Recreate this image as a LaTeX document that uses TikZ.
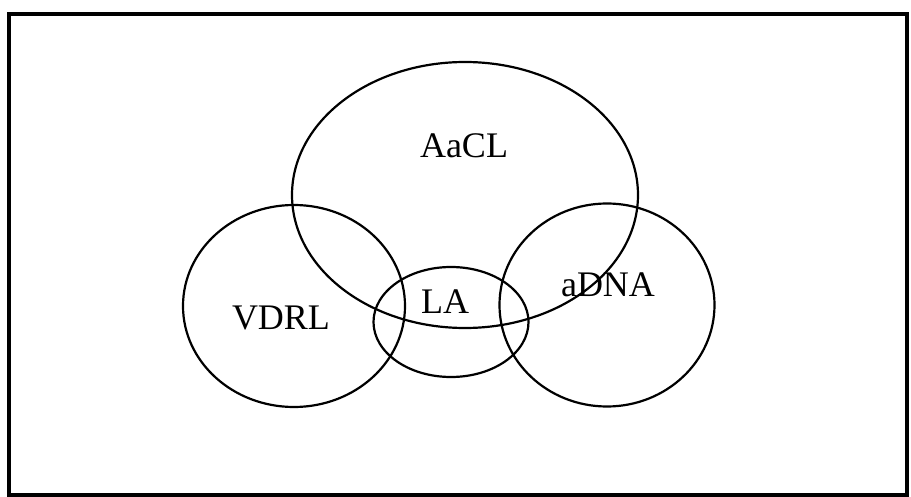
\documentclass[tikz,border=0pt]{standalone}
\usepackage{fontspec}
\setmainfont{Liberation Serif}
\usetikzlibrary{shapes.geometric}

\begin{document}
\begin{tikzpicture}[x=1pt,y=-1pt,
  setring/.style={draw,ellipse,line width=2.2pt,inner sep=0pt},
  setlabel/.style={anchor=base,inner sep=0pt,font=\fontsize{36}{40}\selectfont}]
  \useasboundingbox (0,0) rectangle (911,497);
  % Moldura
  \draw[line width=4.5pt] (9,14) rectangle (907,495);
  % Conjuntos
  \node[setring,minimum width=346pt,minimum height=266pt] (aacl) at (465,195) {};
  \node[setring,minimum width=222pt,minimum height=202pt] (vdrl) at (294,306) {};
  \node[setring,minimum width=215pt,minimum height=203pt] (adna) at (607,305) {};
  \node[setring,minimum width=155pt,minimum height=110pt] (la) at (451,322) {};
  % R\'{o}tulos
  \node[setlabel] (aaclText) at (464,158) {AaCL};
  \node[setlabel] (vdrlText) at (281,330) {VDRL};
  \node[setlabel] (adnaText) at (608,297) {aDNA};
  \node[setlabel] (laText) at (445,313) {LA};
\end{tikzpicture}
\end{document}
